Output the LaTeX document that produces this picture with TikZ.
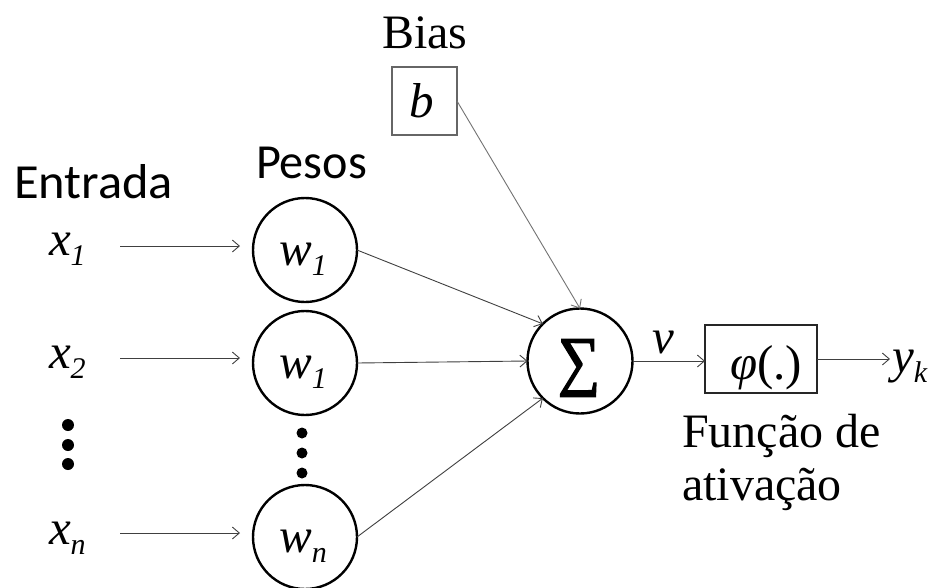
\documentclass[tikz,border=0pt]{standalone}
\usepackage{fontspec}
\usepackage{graphicx}
\setmainfont{Liberation Serif}
\newfontfamily\calib{Carlito}
\newfontfamily\sigfont[FakeBold=2.5]{Liberation Serif}
\usetikzlibrary{arrows.meta,calc}
\newcommand\mysub[1]{\raisebox{-10pt}{\fontsize{30}{30}\selectfont\itshape #1}}
\begin{document}
\begin{tikzpicture}[x=1pt,y=-1pt,
  every node/.style={inner sep=0pt, outer sep=0pt},
  big/.style={font=\fontsize{49}{49}\selectfont},
  wcirc/.style={draw=black, line width=2.4pt, circle, minimum size=104pt},
  arr/.style={draw=black!75, line width=0.9pt, -{Straight Barb[length=7pt,width=12pt,line width=0.9pt]}},
  arrb/.style={arr, draw=black!55},
  dot/.style={fill=black}
]
\useasboundingbox[fill=white] (0,0) rectangle (940,587);

% titles
\node[anchor=base west] (entrada) at (14,198) {\resizebox{159pt}{\height}{\calib\fontsize{49}{49}\selectfont Entrada}};
\node[anchor=base west] (pesos) at (256,178) {\resizebox{111pt}{\height}{\calib\fontsize{49}{49}\selectfont Pesos}};
\node[anchor=base west, font=\fontsize{48}{48}\selectfont] (bias) at (382,48) {Bias};

% weight circles
\node[wcirc] (w1) at (305,250) {};
\node[wcirc] (w2) at (305,363) {};
\node[wcirc] (wn) at (305,537) {};
\node[big, anchor=base] (w1t) at ($(w1)+(-2,15)$) {\textit{w}\mysub{1}};
\node[big, anchor=base] (w2t) at ($(w2)+(-2,15)$) {\textit{w}\mysub{1}};
\node[big, anchor=base] (wnt) at ($(wn)+(-2,15)$) {\textit{w}\mysub{n}};

% inputs
\node[big, anchor=base west] (x1) at (49,255) {\textit{x}\mysub{1}};
\node[big, anchor=base west] (x2) at (49,368) {\textit{x}\mysub{2}};
\node[big, anchor=base west] (xn) at (49,544) {\textit{x}\mysub{n}};
\coordinate (s1) at (120,246);
\coordinate (s2) at (120,358);
\coordinate (sn) at (120,533);
\draw[arr, shorten >=13pt] (s1) -- (s1 -| w1.west);
\draw[arr, shorten >=13pt] (s2) -- (s2 -| w2.west);
\draw[arr, shorten >=13pt] (sn) -- (sn -| wn.west);

% dots
\fill[dot] (68,425) circle (6);
\fill[dot] (68,445) circle (6);
\fill[dot] (68,464) circle (6);
\fill[dot] (302,433) circle (5.5);
\fill[dot] (302,453) circle (5.5);
\fill[dot] (302,473) circle (5.5);

% bias box
\node[draw=black!60, line width=1.3pt, minimum width=65pt, minimum height=68pt] (b) at (424.5,101) {};
\node[big, anchor=base] (bt) at ($(b)+(-3,16)$) {\textit{b}};

% summation
\node[wcirc, minimum size=105pt] (S) at (580,361) {};
\node (St) at ($(S)+(-1,7)$) {\resizebox*{42pt}{57pt}{\sigfont ∑}};

\draw[arr] (w1.east) -- (S.135);
\draw[arr] (w2.east) -- (S.west);
\draw[arr] (wn.east) -- (S.225);
\draw[arrb] (b.east) -- (S.north);

% activation
\node[draw=black!85, line width=1.3pt, minimum width=112pt, minimum height=68pt] (phi) at (761,359) {};
\node[big, anchor=base] (phit) at ($(phi)+(5,20)$) {\textit{φ}(.)};
\node[big, anchor=base west] (v) at (652,353) {\textit{v}};
\node[big, anchor=base west] (yk) at (892,372) {\textit{y}\mysub{k}};
\draw[arr] (S.east) -- (S.east -| phi.west);
\draw[arr, shorten >=2pt] (phi.east) -- (phi.east -| yk.west);

\node[anchor=base west, font=\fontsize{48}{48}\selectfont] (f1) at (682,447) {Função de};
\node[anchor=base west, font=\fontsize{48}{48}\selectfont] (f2) at (682,500) {ativação};
\end{tikzpicture}
\end{document}
